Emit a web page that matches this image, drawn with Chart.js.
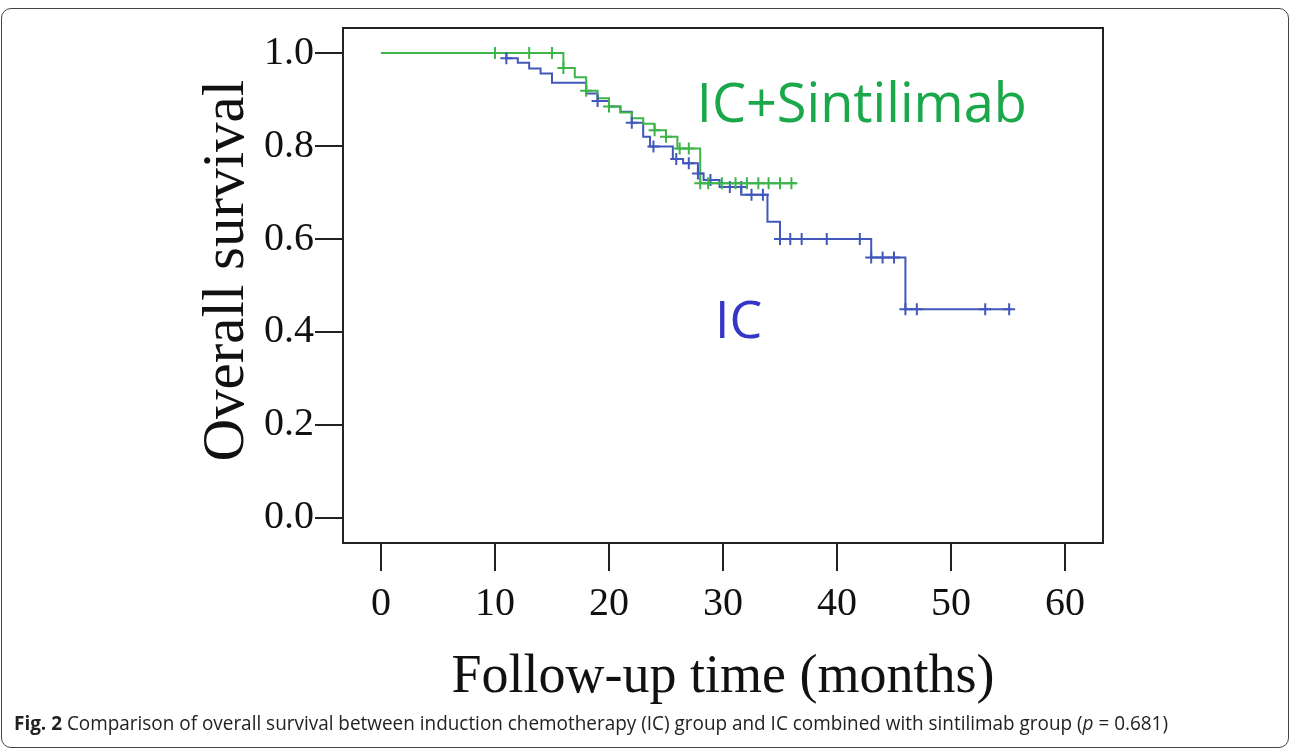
<!DOCTYPE html>
<html>
<head>
<meta charset="utf-8">
<script src="https://cdn.jsdelivr.net/npm/chart.js@4.4.0/dist/chart.umd.min.js"></script>
<style>
  html, body { margin: 0; padding: 0; background: #fff; }
  body { width: 1292px; height: 749px; position: relative; overflow: hidden; }
  #frame { position: absolute; left: 1px; top: 8px; width: 1288px; height: 740px;
           border: 1.5px solid #444; border-radius: 10px; box-sizing: border-box; }
  #wrap { position: absolute; left: 0; top: 0; width: 1292px; height: 720px; }
  #caption { position: absolute; left: 14px; top: 709px; font-family: "Open Sans", sans-serif;
             font-size: 20px; white-space: nowrap; transform-origin: left center; color: #222; }
</style>
</head>
<body>
<div id="frame"></div>
<div id="wrap"><canvas id="kmChart"></canvas></div>
<div id="caption"><b>Fig. 2</b> Comparison of overall survival between induction chemotherapy (IC) group and IC combined with sintilimab group (<i>p</i>&nbsp;=&nbsp;0.681)</div>
<script>
// axis ticks
const xTicks = [0, 10, 20, 30, 40, 50, 60];
const yTicks = [0, 0.2, 0.4, 0.6, 0.8, 1.0];

// IC group: step times (months) and survival after each step
const icTimes = [0, 11, 12, 13, 14, 15, 18, 19, 20, 21, 22, 23, 23.6, 25.6, 26.5, 27.8, 28.3, 29.7, 31.6, 33.9, 35, 43, 46, 55.3];
const icSurv  = [1, 0.989, 0.979, 0.967, 0.956, 0.936, 0.913, 0.897, 0.885, 0.874, 0.850, 0.820, 0.799, 0.772, 0.763, 0.741, 0.727, 0.712, 0.695, 0.637, 0.600, 0.560, 0.449, 0.449];
const icCensorTimes = [11, 19, 22, 23.9, 25.9, 27, 27.8, 28.9, 30.6, 31.6, 32.5, 33.5, 35, 35.9, 36.9, 39.1, 42, 43, 44, 45, 46, 47, 53, 55.1];
const icCensorSurv  = [0.989, 0.897, 0.850, 0.799, 0.772, 0.763, 0.741, 0.727, 0.712, 0.712, 0.695, 0.695, 0.600, 0.600, 0.600, 0.600, 0.600, 0.560, 0.560, 0.560, 0.449, 0.449, 0.449, 0.449];

// IC + Sintilimab group
const sinTimes = [0, 16, 17, 18, 19, 20, 21, 22, 23, 24, 25, 26, 28, 36.4];
const sinSurv  = [1, 0.968, 0.948, 0.919, 0.903, 0.885, 0.872, 0.860, 0.848, 0.834, 0.820, 0.795, 0.720, 0.720];
const sinCensorTimes = [10, 13, 15, 16, 18, 20, 24, 25, 26.2, 27, 28, 28.7, 29.9, 31.1, 32.1, 33.1, 34, 35, 36];
const sinCensorSurv  = [1, 1, 1, 0.968, 0.919, 0.885, 0.834, 0.820, 0.795, 0.795, 0.720, 0.720, 0.720, 0.720, 0.720, 0.720, 0.720, 0.720, 0.720];

const groupLabels = ['IC', 'IC+Sintilimab'];
const labelAt = [[29.3, 0.387], [27.7, 0.852]];

const blue = '#4257bb';
const green = '#3db54a';

function pts(xs, ys) { return xs.map((x, i) => ({ x: x, y: ys[i] })); }

// frame round the plot area and the two group labels
const boxPlugin = {
  id: 'box',
  afterDraw(chart) {
    const { ctx, chartArea: a, scales } = chart;
    ctx.save();
    ctx.strokeStyle = '#222';
    ctx.lineWidth = 2;
    ctx.strokeRect(a.left, a.top, a.right - a.left, a.bottom - a.top);
    ctx.textBaseline = 'alphabetic';
    ctx.font = '52px "Open Sans"';
    ctx.fillStyle = '#3535c8';
    ctx.fillText(groupLabels[0], scales.x.getPixelForValue(labelAt[0][0]), scales.y.getPixelForValue(labelAt[0][1]));
    ctx.font = '54px "Open Sans"';
    ctx.fillStyle = '#1aa84a';
    const x1 = scales.x.getPixelForValue(labelAt[1][0]);
    const w1 = ctx.measureText(groupLabels[1]).width;
    ctx.translate(x1, scales.y.getPixelForValue(labelAt[1][1]));
    ctx.scale(330 / w1, 1);
    ctx.fillText(groupLabels[1], 0, 0);
    ctx.restore();
  }
};

const serif = 'Liberation Serif';
const axisCommon = {
  type: 'linear',
  grid: { display: true, drawOnChartArea: false, drawTicks: true, tickLength: 28, color: '#222', lineWidth: 2 },
  border: { display: true, color: '#222', width: 2 },
};

new Chart(document.getElementById('kmChart'), {
  type: 'scatter',
  data: {
    datasets: [
      { label: groupLabels[0], data: pts(icTimes, icSurv), showLine: true, stepped: true, order: 3,
        borderColor: blue, borderWidth: 2, pointRadius: 0 },
      { label: groupLabels[1], data: pts(sinTimes, sinSurv), showLine: true, stepped: true, order: 2,
        borderColor: green, borderWidth: 2, pointRadius: 0 },
      { label: 'IC censored', data: pts(icCensorTimes, icCensorSurv), showLine: false, order: 1,
        pointStyle: 'cross', pointRadius: 6, borderColor: blue, borderWidth: 2 },
      { label: 'IC+Sintilimab censored', data: pts(sinCensorTimes, sinCensorSurv), showLine: false, order: 0,
        pointStyle: 'cross', pointRadius: 6, borderColor: green, borderWidth: 2 },
    ]
  },
  options: {
    responsive: true,
    maintainAspectRatio: false,
    animation: false,
    layout: { padding: { top: 28, right: 189, bottom: 0, left: 0 } },
    plugins: { legend: { display: false }, tooltip: { enabled: false } },
    scales: {
      x: {
        ...axisCommon,
        min: -3.33, max: 63.33,
        afterBuildTicks: s => { s.ticks = xTicks.map(v => ({ value: v })); },
        afterFit: s => { s.height = 177; },
        ticks: { font: { family: serif, size: 40 }, color: '#111', padding: 9, maxRotation: 0 },
        title: { display: true, text: 'Follow-up time (months)', color: '#111',
                 font: { family: serif, size: 54 }, padding: { top: 0, bottom: 10 } }
      },
      y: {
        ...axisCommon,
        min: -0.054, max: 1.054,
        afterBuildTicks: s => { s.ticks = yTicks.map(v => ({ value: v })); },
        afterFit: s => { s.width = 343; },
        ticks: { font: { family: serif, size: 40 }, color: '#111', padding: 1,
                 callback: v => v.toFixed(1) },
        title: { display: true, text: '  Overall survival', color: '#111',
                 font: { family: serif, size: 59 }, padding: { top: 192, bottom: 0 } }
      }
    }
  },
  plugins: [boxPlugin]
});

const cap = document.getElementById('caption');
const w = cap.getBoundingClientRect().width;
cap.style.transform = 'scaleX(' + (1154 / w) + ')';
</script>
</body>
</html>
